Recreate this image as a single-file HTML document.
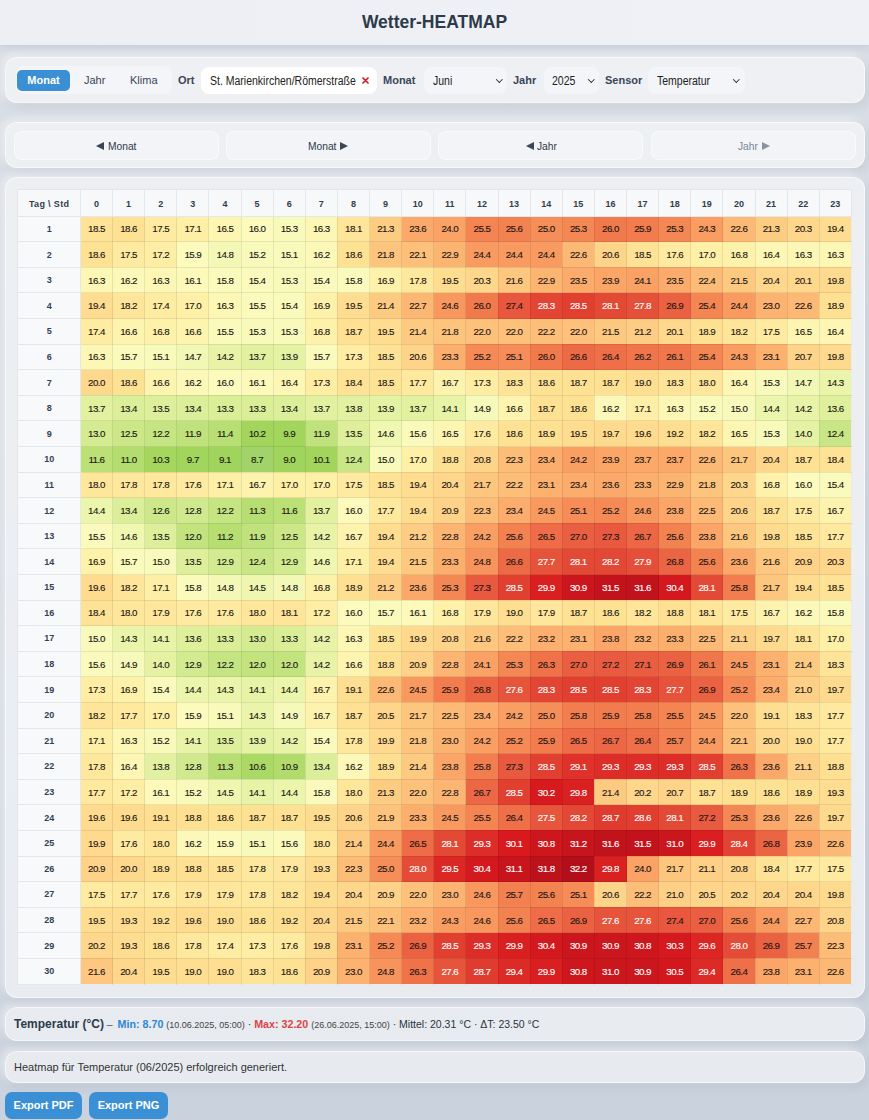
<!DOCTYPE html>
<html><head><meta charset="utf-8">
<style>
*{box-sizing:border-box;margin:0;padding:0}
html,body{width:869px;height:1120px;overflow:hidden}
body{font-family:"Liberation Sans",sans-serif;background:linear-gradient(180deg,#dadee6 0%,#d3d9e2 50%,#cad2dd 100%);color:#2d3a4a;position:relative}
.hdr{position:absolute;left:0;top:0;width:869px;height:45px;background:linear-gradient(90deg,#edeff4,#eff1f6);box-shadow:0 2px 8px rgba(60,70,90,.12);text-align:center}
.hdr h1{font-size:17.5px;font-weight:bold;line-height:44px;color:#2c3a4b;letter-spacing:0}
.panel{position:absolute;left:5px;width:860px;background:rgba(255,255,255,.55);border:1px solid rgba(255,255,255,.6);border-radius:12px;box-shadow:-4px -3px 10px rgba(255,255,255,.5),3px 4px 10px rgba(70,80,100,.10)}
.p1{top:57px;height:46px}
.p2{top:122px;height:46px}
.p3{top:177px;height:821px}
.p4{top:1007px;height:34px}
.p5{top:1051px;height:32px}
.abs{position:absolute}
.tabs{left:10px;top:8px;width:156px;height:28px;background:#f3f5f8;border-radius:8px}
.tab{position:absolute;font-size:11px;color:#3a4656;top:0;line-height:28px}
.tab.act{left:1px;top:4px;width:53px;height:21px;line-height:21px;background:#3b8fd5;color:#fff;font-weight:bold;border-radius:5px;text-align:center}
.lbl{position:absolute;font-size:11px;font-weight:bold;color:#3a4658;line-height:20px;top:12px}
.sx{display:inline-block;transform:scaleX(.875);transform-origin:0 50%;white-space:nowrap}
.inp{position:absolute;top:9px;height:27px;background:#fff;border-radius:8px;font-size:12px;line-height:27px;color:#222}
.sel{position:absolute;top:9px;height:27px;background:#f3f5f8;border-radius:8px;font-size:12px;line-height:28px;color:#222}
.chev{position:absolute;top:9.5px;width:4.6px;height:4.6px;border-right:1.4px solid #2a2a2a;border-bottom:1.4px solid #2a2a2a;transform:rotate(45deg)}
.nb{position:absolute;top:8px;height:29px;width:205px;background:#f2f4f7;border:1px solid rgba(255,255,255,.5);border-radius:8px;font-size:12px;text-align:center;line-height:29px;color:#2d3a4a}
.tri{position:absolute;top:19px;fill:#3b4554}.tri.dis{fill:#8a93a0}
.nt{position:absolute;top:17.6px;line-height:11px;font-size:11px;color:#2f3a49;display:inline-block;transform:scaleX(.93);transform-origin:0 50%;white-space:nowrap}.nt.dis{color:#7b8593}
table.hm{position:absolute;left:11.4px;top:11px;border-collapse:collapse;table-layout:fixed;width:834.5px;background:#fff}
table.hm th,table.hm td{border:1px solid #e3e6ea;height:25.6px;padding:0;text-align:center;font-size:9.8px;color:#1a1612;letter-spacing:-0.55px;white-space:nowrap}
table.hm td{-webkit-text-stroke:0.12px currentColor}
table.hm thead th{height:26.7px;padding-top:1.5px;background:#f7f8fa;font-weight:bold;color:#333d4a;font-size:9px;letter-spacing:0}
table.hm tbody th{background:#f8f9fb;font-weight:bold;color:#334155;font-size:9px;letter-spacing:0}
table.hm td{border-color:rgba(0,0,0,.08)}
table.hm td.w{color:#fff}
</style></head><body>
<div class="hdr"><h1>Wetter-HEATMAP</h1></div>
<div class="panel p1">
  <div class="abs tabs">
    <div class="tab act">Monat</div>
    <div class="tab" style="left:68px">Jahr</div>
    <div class="tab" style="left:114px">Klima</div>
  </div>
  <div class="lbl" style="left:172px">Ort</div>
  <div class="inp" style="left:195px;width:176px"><span class="sx" style="position:absolute;left:9px;top:1px">St. Marienkirchen/Römerstraße</span><svg style="position:absolute;left:161px;top:10px" width="7" height="7" viewBox="0 0 7 7"><path d="M1 1L6 6M6 1L1 6" stroke="#cf1f29" stroke-width="1.7" stroke-linecap="round"/></svg></div>
  <div class="lbl" style="left:377px">Monat</div>
  <div class="sel" style="left:418px;width:83px"><span class="sx" style="position:absolute;left:9px">Juni</span><i class="chev" style="left:72.5px"></i></div>
  <div class="lbl" style="left:507px">Jahr</div>
  <div class="sel" style="left:538px;width:55px"><span class="sx" style="position:absolute;left:8px">2025</span><i class="chev" style="left:45px"></i></div>
  <div class="lbl" style="left:599px">Sensor</div>
  <div class="sel" style="left:642px;width:97px"><span class="sx" style="position:absolute;left:9px">Temperatur</span><i class="chev" style="left:86px"></i></div>
</div>
<div class="panel p2">
  <div class="nb" style="left:8px"></div>
  <div class="nb" style="left:220px"></div>
  <div class="nb" style="left:432px"></div>
  <div class="nb" style="left:645px"></div>
  <svg class="tri" style="left:90.0px" width="8" height="8" viewBox="0 0 8 8"><path d="M0 4L8 0V8Z"/></svg><span class="nt" style="left:102.4px">Monat</span>
  <span class="nt" style="left:301.9px">Monat</span><svg class="tri" style="left:334.4px" width="8" height="8" viewBox="0 0 8 8"><path d="M8 4L0 0V8Z"/></svg>
  <svg class="tri" style="left:519.6px" width="8" height="8" viewBox="0 0 8 8"><path d="M0 4L8 0V8Z"/></svg><span class="nt" style="left:531.3px">Jahr</span>
  <span class="nt dis" style="left:732.3px">Jahr</span><svg class="tri dis" style="left:755.9px" width="8" height="8" viewBox="0 0 8 8"><path d="M8 4L0 0V8Z"/></svg>
</div>
<div class="panel p3">
<table class="hm"><colgroup><col style="width:62.5px"><col><col><col><col><col><col><col><col><col><col><col><col><col><col><col><col><col><col><col><col><col><col><col><col></colgroup><thead><tr><th class="c0" style="letter-spacing:.35px">Tag \ Std</th><th>0</th><th>1</th><th>2</th><th>3</th><th>4</th><th>5</th><th>6</th><th>7</th><th>8</th><th>9</th><th>10</th><th>11</th><th>12</th><th>13</th><th>14</th><th>15</th><th>16</th><th>17</th><th>18</th><th>19</th><th>20</th><th>21</th><th>22</th><th>23</th></tr></thead><tbody><tr><th>1</th><td style="background:#fee295">18.5</td><td style="background:#fee294">18.6</td><td style="background:#feeba1">17.5</td><td style="background:#feefa6">17.1</td><td style="background:#fdf5b2">16.5</td><td style="background:#fcfabd">16.0</td><td style="background:#f8fabc">15.3</td><td style="background:#fdf7b6">16.3</td><td style="background:#fee59a">18.1</td><td style="background:#fdcc83">21.3</td><td style="background:#fba96a">23.6</td><td style="background:#fba366">24.0</td><td style="background:#f48452">25.5</td><td style="background:#f38251">25.6</td><td style="background:#f68e59">25.0</td><td style="background:#f48855">25.3</td><td style="background:#f17a4c">26.0</td><td style="background:#f27c4d">25.9</td><td style="background:#f48855">25.3</td><td style="background:#fa9d62">24.3</td><td style="background:#fcb875">22.6</td><td style="background:#fdcc83">21.3</td><td style="background:#fed68c">20.3</td><td style="background:#fedc90">19.4</td></tr>
<tr><th>2</th><td style="background:#fee294">18.6</td><td style="background:#feeba1">17.5</td><td style="background:#feeea5">17.2</td><td style="background:#fcfabd">15.9</td><td style="background:#f3f8b6">14.8</td><td style="background:#f8fabb">15.2</td><td style="background:#f8fabb">15.1</td><td style="background:#fcf8b9">16.2</td><td style="background:#fee294">18.6</td><td style="background:#fdc47d">21.8</td><td style="background:#fdc07a">22.1</td><td style="background:#fcb471">22.9</td><td style="background:#f99b61">24.4</td><td style="background:#f99b61">24.4</td><td style="background:#f99b61">24.4</td><td style="background:#fcb875">22.6</td><td style="background:#fed48b">20.6</td><td style="background:#fee295">18.5</td><td style="background:#feeaa0">17.6</td><td style="background:#fef0a7">17.0</td><td style="background:#fef2ab">16.8</td><td style="background:#fdf6b4">16.4</td><td style="background:#fdf7b6">16.3</td><td style="background:#fdf7b6">16.3</td></tr>
<tr><th>3</th><td style="background:#fdf7b6">16.3</td><td style="background:#fcf8b9">16.2</td><td style="background:#fdf7b6">16.3</td><td style="background:#fcf9bb">16.1</td><td style="background:#fbfabd">15.8</td><td style="background:#f9fabc">15.4</td><td style="background:#f8fabc">15.3</td><td style="background:#f9fabc">15.4</td><td style="background:#fbfabd">15.8</td><td style="background:#fef1a9">16.9</td><td style="background:#fee89d">17.8</td><td style="background:#fedc90">19.5</td><td style="background:#fed68c">20.3</td><td style="background:#fdc77f">21.6</td><td style="background:#fcb471">22.9</td><td style="background:#fbab6b">23.5</td><td style="background:#fba567">23.9</td><td style="background:#faa165">24.1</td><td style="background:#fbab6b">23.5</td><td style="background:#fcbb77">22.4</td><td style="background:#fdc981">21.5</td><td style="background:#fed68c">20.4</td><td style="background:#fed88d">20.1</td><td style="background:#feda8e">19.8</td></tr>
<tr><th>4</th><td style="background:#fedc90">19.4</td><td style="background:#fee599">18.2</td><td style="background:#feeca2">17.4</td><td style="background:#fef0a7">17.0</td><td style="background:#fdf7b6">16.3</td><td style="background:#fafabc">15.5</td><td style="background:#f9fabc">15.4</td><td style="background:#fef1a9">16.9</td><td style="background:#fedc90">19.5</td><td style="background:#fdca82">21.4</td><td style="background:#fcb774">22.7</td><td style="background:#f8975e">24.6</td><td style="background:#f17a4c">26.0</td><td style="background:#e8573e">27.4</td><td class="w" style="background:#e24533">28.3</td><td class="w" style="background:#e14031">28.5</td><td class="w" style="background:#e34a36">28.1</td><td class="w" style="background:#e55039">27.8</td><td style="background:#eb6243">26.9</td><td style="background:#f48654">25.4</td><td style="background:#f99b61">24.4</td><td style="background:#fcb270">23.0</td><td style="background:#fcb875">22.6</td><td style="background:#fee092">18.9</td></tr>
<tr><th>5</th><td style="background:#feeca2">17.4</td><td style="background:#fdf4b0">16.6</td><td style="background:#fef2ab">16.8</td><td style="background:#fdf4b0">16.6</td><td style="background:#fafabc">15.5</td><td style="background:#f8fabc">15.3</td><td style="background:#f8fabc">15.3</td><td style="background:#fef2ab">16.8</td><td style="background:#fee193">18.7</td><td style="background:#fedc90">19.5</td><td style="background:#fdca82">21.4</td><td style="background:#fdc47d">21.8</td><td style="background:#fdc17b">22.0</td><td style="background:#fdc17b">22.0</td><td style="background:#fdbe79">22.2</td><td style="background:#fdc17b">22.0</td><td style="background:#fdc981">21.5</td><td style="background:#fecd85">21.2</td><td style="background:#fed88d">20.1</td><td style="background:#fee092">18.9</td><td style="background:#fee599">18.2</td><td style="background:#feeba1">17.5</td><td style="background:#fdf5b2">16.5</td><td style="background:#fdf6b4">16.4</td></tr>
<tr><th>6</th><td style="background:#fdf7b6">16.3</td><td style="background:#fafabc">15.7</td><td style="background:#f8fabb">15.1</td><td style="background:#f1f7b4">14.7</td><td style="background:#e8f3a8">14.2</td><td style="background:#e1f19f">13.7</td><td style="background:#e4f2a3">13.9</td><td style="background:#fafabc">15.7</td><td style="background:#feeda3">17.3</td><td style="background:#fee295">18.5</td><td style="background:#fed48b">20.6</td><td style="background:#fcae6d">23.3</td><td style="background:#f58a56">25.2</td><td style="background:#f68c58">25.1</td><td style="background:#f17a4c">26.0</td><td style="background:#ed6a46">26.6</td><td style="background:#ee6f48">26.4</td><td style="background:#f0754a">26.2</td><td style="background:#f0774b">26.1</td><td style="background:#f48654">25.4</td><td style="background:#fa9d62">24.3</td><td style="background:#fcb16f">23.1</td><td style="background:#fed48a">20.7</td><td style="background:#feda8e">19.8</td></tr>
<tr><th>7</th><td style="background:#fed88d">20.0</td><td style="background:#fee294">18.6</td><td style="background:#fdf4b0">16.6</td><td style="background:#fcf8b9">16.2</td><td style="background:#fcfabd">16.0</td><td style="background:#fcf9bb">16.1</td><td style="background:#fdf6b4">16.4</td><td style="background:#feeda3">17.3</td><td style="background:#fee396">18.4</td><td style="background:#fee295">18.5</td><td style="background:#fee99f">17.7</td><td style="background:#fdf3ae">16.7</td><td style="background:#feeda3">17.3</td><td style="background:#fee498">18.3</td><td style="background:#fee294">18.6</td><td style="background:#fee193">18.7</td><td style="background:#fee193">18.7</td><td style="background:#fedf92">19.0</td><td style="background:#fee498">18.3</td><td style="background:#fee69b">18.0</td><td style="background:#fdf6b4">16.4</td><td style="background:#f8fabc">15.3</td><td style="background:#f1f7b4">14.7</td><td style="background:#eaf4aa">14.3</td></tr>
<tr><th>8</th><td style="background:#e1f19f">13.7</td><td style="background:#dbee99">13.4</td><td style="background:#ddef9b">13.5</td><td style="background:#dbee99">13.4</td><td style="background:#daee97">13.3</td><td style="background:#daee97">13.3</td><td style="background:#dbee99">13.4</td><td style="background:#e1f19f">13.7</td><td style="background:#e2f1a1">13.8</td><td style="background:#e4f2a3">13.9</td><td style="background:#e1f19f">13.7</td><td style="background:#e7f3a6">14.1</td><td style="background:#f5f9b9">14.9</td><td style="background:#fdf4b0">16.6</td><td style="background:#fee193">18.7</td><td style="background:#fee294">18.6</td><td style="background:#fcf8b9">16.2</td><td style="background:#feefa6">17.1</td><td style="background:#fdf7b6">16.3</td><td style="background:#f8fabb">15.2</td><td style="background:#f7fabb">15.0</td><td style="background:#ecf5ac">14.4</td><td style="background:#e8f3a8">14.2</td><td style="background:#dff09d">13.6</td></tr>
<tr><th>9</th><td style="background:#d4eb92">13.0</td><td style="background:#cbe788">12.5</td><td style="background:#c5e482">12.2</td><td style="background:#c0e27c">11.9</td><td style="background:#b8df73">11.4</td><td style="background:#a3d55c">10.2</td><td style="background:#a2d55c">9.9</td><td style="background:#c0e27c">11.9</td><td style="background:#ddef9b">13.5</td><td style="background:#f0f7b1">14.6</td><td style="background:#fafabc">15.6</td><td style="background:#fdf5b2">16.5</td><td style="background:#feeaa0">17.6</td><td style="background:#fee294">18.6</td><td style="background:#fee092">18.9</td><td style="background:#fedc90">19.5</td><td style="background:#feda8f">19.7</td><td style="background:#fedb8f">19.6</td><td style="background:#fede91">19.2</td><td style="background:#fee599">18.2</td><td style="background:#fdf5b2">16.5</td><td style="background:#f8fabc">15.3</td><td style="background:#e5f2a4">14.0</td><td style="background:#c9e686">12.4</td></tr>
<tr><th>10</th><td style="background:#bbe076">11.6</td><td style="background:#b3dd6e">11.0</td><td style="background:#a5d65e">10.3</td><td style="background:#a2d55c">9.7</td><td style="background:#a0d45c">9.1</td><td style="background:#a2d36a">8.7</td><td style="background:#a0d45c">9.0</td><td style="background:#a3d55c">10.1</td><td style="background:#c9e686">12.4</td><td style="background:#f7fabb">15.0</td><td style="background:#fef0a7">17.0</td><td style="background:#fee093">18.8</td><td style="background:#fed38a">20.8</td><td style="background:#fcbd78">22.3</td><td style="background:#fcac6c">23.4</td><td style="background:#fa9f63">24.2</td><td style="background:#fba567">23.9</td><td style="background:#fba869">23.7</td><td style="background:#fba869">23.7</td><td style="background:#fcb875">22.6</td><td style="background:#fdc67e">21.7</td><td style="background:#fed68c">20.4</td><td style="background:#fee193">18.7</td><td style="background:#fee396">18.4</td></tr>
<tr><th>11</th><td style="background:#fee69b">18.0</td><td style="background:#fee89d">17.8</td><td style="background:#fee89d">17.8</td><td style="background:#feeaa0">17.6</td><td style="background:#feefa6">17.1</td><td style="background:#fdf3ae">16.7</td><td style="background:#fef0a7">17.0</td><td style="background:#fef0a7">17.0</td><td style="background:#feeba1">17.5</td><td style="background:#fee295">18.5</td><td style="background:#fedc90">19.4</td><td style="background:#fed68c">20.4</td><td style="background:#fdc67e">21.7</td><td style="background:#fdbe79">22.2</td><td style="background:#fcb16f">23.1</td><td style="background:#fcac6c">23.4</td><td style="background:#fba96a">23.6</td><td style="background:#fcae6d">23.3</td><td style="background:#fcb471">22.9</td><td style="background:#fdc47d">21.8</td><td style="background:#fed68c">20.3</td><td style="background:#fef2ab">16.8</td><td style="background:#fcfabd">16.0</td><td style="background:#f9fabc">15.4</td></tr>
<tr><th>12</th><td style="background:#ecf5ac">14.4</td><td style="background:#dbee99">13.4</td><td style="background:#cde88a">12.6</td><td style="background:#d0e98e">12.8</td><td style="background:#c5e482">12.2</td><td style="background:#b7de72">11.3</td><td style="background:#bbe076">11.6</td><td style="background:#e1f19f">13.7</td><td style="background:#fcfabd">16.0</td><td style="background:#fee99f">17.7</td><td style="background:#fedc90">19.4</td><td style="background:#fed289">20.9</td><td style="background:#fcbd78">22.3</td><td style="background:#fcac6c">23.4</td><td style="background:#f89960">24.5</td><td style="background:#f68c58">25.1</td><td style="background:#f58a56">25.2</td><td style="background:#f8975e">24.6</td><td style="background:#fba668">23.8</td><td style="background:#fcba76">22.5</td><td style="background:#fed48b">20.6</td><td style="background:#fee193">18.7</td><td style="background:#feeba1">17.5</td><td style="background:#fdf3ae">16.7</td></tr>
<tr><th>13</th><td style="background:#fafabc">15.5</td><td style="background:#f0f7b1">14.6</td><td style="background:#ddef9b">13.5</td><td style="background:#c2e37e">12.0</td><td style="background:#b6de71">11.2</td><td style="background:#c0e27c">11.9</td><td style="background:#cbe788">12.5</td><td style="background:#e8f3a8">14.2</td><td style="background:#fdf3ae">16.7</td><td style="background:#fedc90">19.4</td><td style="background:#fecd85">21.2</td><td style="background:#fcb573">22.8</td><td style="background:#fa9f63">24.2</td><td style="background:#f38251">25.6</td><td style="background:#ee6c47">26.5</td><td style="background:#ea5f42">27.0</td><td style="background:#e8593f">27.3</td><td style="background:#ec6745">26.7</td><td style="background:#f38251">25.6</td><td style="background:#fba668">23.8</td><td style="background:#fdc77f">21.6</td><td style="background:#feda8e">19.8</td><td style="background:#fee295">18.5</td><td style="background:#fee99f">17.7</td></tr>
<tr><th>14</th><td style="background:#fef1a9">16.9</td><td style="background:#fafabc">15.7</td><td style="background:#f7fabb">15.0</td><td style="background:#ddef9b">13.5</td><td style="background:#d2ea90">12.9</td><td style="background:#c9e686">12.4</td><td style="background:#d2ea90">12.9</td><td style="background:#f0f7b1">14.6</td><td style="background:#feefa6">17.1</td><td style="background:#fedc90">19.4</td><td style="background:#fdc981">21.5</td><td style="background:#fcae6d">23.3</td><td style="background:#f7935c">24.8</td><td style="background:#ed6a46">26.6</td><td class="w" style="background:#e6523a">27.7</td><td class="w" style="background:#e34a36">28.1</td><td class="w" style="background:#e34735">28.2</td><td class="w" style="background:#e54e38">27.9</td><td style="background:#eb6444">26.8</td><td style="background:#f38251">25.6</td><td style="background:#fba96a">23.6</td><td style="background:#fdc77f">21.6</td><td style="background:#fed289">20.9</td><td style="background:#fed68c">20.3</td></tr>
<tr><th>15</th><td style="background:#fedb8f">19.6</td><td style="background:#fee599">18.2</td><td style="background:#feefa6">17.1</td><td style="background:#fbfabd">15.8</td><td style="background:#f3f8b6">14.8</td><td style="background:#eef6af">14.5</td><td style="background:#f3f8b6">14.8</td><td style="background:#fef2ab">16.8</td><td style="background:#fee092">18.9</td><td style="background:#fecd85">21.2</td><td style="background:#fba96a">23.6</td><td style="background:#f48855">25.3</td><td style="background:#e8593f">27.3</td><td class="w" style="background:#e14031">28.5</td><td class="w" style="background:#d91f20">29.9</td><td class="w" style="background:#cb161d">30.9</td><td class="w" style="background:#c2131c">31.5</td><td class="w" style="background:#c0131c">31.6</td><td class="w" style="background:#d3191e">30.4</td><td class="w" style="background:#e34a36">28.1</td><td style="background:#f27e4f">25.8</td><td style="background:#fdc67e">21.7</td><td style="background:#fedc90">19.4</td><td style="background:#fee295">18.5</td></tr>
<tr><th>16</th><td style="background:#fee396">18.4</td><td style="background:#fee69b">18.0</td><td style="background:#fee79c">17.9</td><td style="background:#feeaa0">17.6</td><td style="background:#feeaa0">17.6</td><td style="background:#fee69b">18.0</td><td style="background:#fee59a">18.1</td><td style="background:#feeea5">17.2</td><td style="background:#fcfabd">16.0</td><td style="background:#fafabc">15.7</td><td style="background:#fcf9bb">16.1</td><td style="background:#fef2ab">16.8</td><td style="background:#fee79c">17.9</td><td style="background:#fedf92">19.0</td><td style="background:#fee79c">17.9</td><td style="background:#fee193">18.7</td><td style="background:#fee294">18.6</td><td style="background:#fee599">18.2</td><td style="background:#fee093">18.8</td><td style="background:#fee59a">18.1</td><td style="background:#feeba1">17.5</td><td style="background:#fdf3ae">16.7</td><td style="background:#fcf8b9">16.2</td><td style="background:#fbfabd">15.8</td></tr>
<tr><th>17</th><td style="background:#f7fabb">15.0</td><td style="background:#eaf4aa">14.3</td><td style="background:#e7f3a6">14.1</td><td style="background:#dff09d">13.6</td><td style="background:#daee97">13.3</td><td style="background:#d4eb92">13.0</td><td style="background:#daee97">13.3</td><td style="background:#e8f3a8">14.2</td><td style="background:#fdf7b6">16.3</td><td style="background:#fee295">18.5</td><td style="background:#fed98e">19.9</td><td style="background:#fed38a">20.8</td><td style="background:#fdc77f">21.6</td><td style="background:#fdbe79">22.2</td><td style="background:#fcaf6e">23.2</td><td style="background:#fcb16f">23.1</td><td style="background:#fba668">23.8</td><td style="background:#fcaf6e">23.2</td><td style="background:#fcae6d">23.3</td><td style="background:#fcba76">22.5</td><td style="background:#fecf86">21.1</td><td style="background:#feda8f">19.7</td><td style="background:#fee59a">18.1</td><td style="background:#fef0a7">17.0</td></tr>
<tr><th>18</th><td style="background:#fafabc">15.6</td><td style="background:#f5f9b9">14.9</td><td style="background:#e5f2a4">14.0</td><td style="background:#d2ea90">12.9</td><td style="background:#c5e482">12.2</td><td style="background:#c2e37e">12.0</td><td style="background:#c2e37e">12.0</td><td style="background:#e8f3a8">14.2</td><td style="background:#fdf4b0">16.6</td><td style="background:#fee093">18.8</td><td style="background:#fed289">20.9</td><td style="background:#fcb573">22.8</td><td style="background:#faa165">24.1</td><td style="background:#f48855">25.3</td><td style="background:#ef7249">26.3</td><td style="background:#ea5f42">27.0</td><td style="background:#e95b40">27.2</td><td style="background:#e95d41">27.1</td><td style="background:#eb6243">26.9</td><td style="background:#f0774b">26.1</td><td style="background:#f89960">24.5</td><td style="background:#fcb16f">23.1</td><td style="background:#fdca82">21.4</td><td style="background:#fee498">18.3</td></tr>
<tr><th>19</th><td style="background:#feeda3">17.3</td><td style="background:#fef1a9">16.9</td><td style="background:#f9fabc">15.4</td><td style="background:#ecf5ac">14.4</td><td style="background:#eaf4aa">14.3</td><td style="background:#e7f3a6">14.1</td><td style="background:#ecf5ac">14.4</td><td style="background:#fdf3ae">16.7</td><td style="background:#fede91">19.1</td><td style="background:#fcb875">22.6</td><td style="background:#f89960">24.5</td><td style="background:#f27c4d">25.9</td><td style="background:#eb6444">26.8</td><td class="w" style="background:#e6543b">27.6</td><td class="w" style="background:#e24533">28.3</td><td class="w" style="background:#e14031">28.5</td><td class="w" style="background:#e14031">28.5</td><td class="w" style="background:#e24533">28.3</td><td class="w" style="background:#e6523a">27.7</td><td style="background:#eb6243">26.9</td><td style="background:#f58a56">25.2</td><td style="background:#fcac6c">23.4</td><td style="background:#fed087">21.0</td><td style="background:#feda8f">19.7</td></tr>
<tr><th>20</th><td style="background:#fee599">18.2</td><td style="background:#fee99f">17.7</td><td style="background:#fef0a7">17.0</td><td style="background:#fcfabd">15.9</td><td style="background:#f8fabb">15.1</td><td style="background:#eaf4aa">14.3</td><td style="background:#f5f9b9">14.9</td><td style="background:#fdf3ae">16.7</td><td style="background:#fee193">18.7</td><td style="background:#fed58b">20.5</td><td style="background:#fdc67e">21.7</td><td style="background:#fcba76">22.5</td><td style="background:#fcac6c">23.4</td><td style="background:#fa9f63">24.2</td><td style="background:#f68e59">25.0</td><td style="background:#f27e4f">25.8</td><td style="background:#f27c4d">25.9</td><td style="background:#f27e4f">25.8</td><td style="background:#f48452">25.5</td><td style="background:#f89960">24.5</td><td style="background:#fdc17b">22.0</td><td style="background:#fede91">19.1</td><td style="background:#fee498">18.3</td><td style="background:#fee99f">17.7</td></tr>
<tr><th>21</th><td style="background:#feefa6">17.1</td><td style="background:#fdf7b6">16.3</td><td style="background:#f8fabb">15.2</td><td style="background:#e7f3a6">14.1</td><td style="background:#ddef9b">13.5</td><td style="background:#e4f2a3">13.9</td><td style="background:#e8f3a8">14.2</td><td style="background:#f9fabc">15.4</td><td style="background:#fee89d">17.8</td><td style="background:#fed98e">19.9</td><td style="background:#fdc47d">21.8</td><td style="background:#fcb270">23.0</td><td style="background:#fa9f63">24.2</td><td style="background:#f58a56">25.2</td><td style="background:#f27c4d">25.9</td><td style="background:#ee6c47">26.5</td><td style="background:#ec6745">26.7</td><td style="background:#ee6f48">26.4</td><td style="background:#f28050">25.7</td><td style="background:#f99b61">24.4</td><td style="background:#fdc07a">22.1</td><td style="background:#fed88d">20.0</td><td style="background:#fedf92">19.0</td><td style="background:#fee99f">17.7</td></tr>
<tr><th>22</th><td style="background:#fee89d">17.8</td><td style="background:#fdf6b4">16.4</td><td style="background:#e2f1a1">13.8</td><td style="background:#d0e98e">12.8</td><td style="background:#b7de72">11.3</td><td style="background:#abd965">10.6</td><td style="background:#b1dc6c">10.9</td><td style="background:#dbee99">13.4</td><td style="background:#fcf8b9">16.2</td><td style="background:#fee092">18.9</td><td style="background:#fdca82">21.4</td><td style="background:#fba668">23.8</td><td style="background:#f27e4f">25.8</td><td style="background:#e8593f">27.3</td><td class="w" style="background:#e14031">28.5</td><td class="w" style="background:#de322a">29.1</td><td class="w" style="background:#dd2d28">29.3</td><td class="w" style="background:#dd2d28">29.3</td><td class="w" style="background:#dd2d28">29.3</td><td class="w" style="background:#e14031">28.5</td><td style="background:#ef7249">26.3</td><td style="background:#fba96a">23.6</td><td style="background:#fecf86">21.1</td><td style="background:#fee093">18.8</td></tr>
<tr><th>23</th><td style="background:#fee99f">17.7</td><td style="background:#feeea5">17.2</td><td style="background:#fcf9bb">16.1</td><td style="background:#f8fabb">15.2</td><td style="background:#eef6af">14.5</td><td style="background:#e7f3a6">14.1</td><td style="background:#ecf5ac">14.4</td><td style="background:#fbfabd">15.8</td><td style="background:#fee69b">18.0</td><td style="background:#fdcc83">21.3</td><td style="background:#fdc17b">22.0</td><td style="background:#fcb573">22.8</td><td style="background:#ec6745">26.7</td><td class="w" style="background:#e14031">28.5</td><td class="w" style="background:#d61a1e">30.2</td><td class="w" style="background:#da2122">29.8</td><td style="background:#fdca82">21.4</td><td style="background:#fed78d">20.2</td><td style="background:#fed48a">20.7</td><td style="background:#fee193">18.7</td><td style="background:#fee092">18.9</td><td style="background:#fee294">18.6</td><td style="background:#fee092">18.9</td><td style="background:#fedd90">19.3</td></tr>
<tr><th>24</th><td style="background:#fedb8f">19.6</td><td style="background:#fedb8f">19.6</td><td style="background:#fede91">19.1</td><td style="background:#fee093">18.8</td><td style="background:#fee294">18.6</td><td style="background:#fee193">18.7</td><td style="background:#fee193">18.7</td><td style="background:#fedc90">19.5</td><td style="background:#fed48b">20.6</td><td style="background:#fdc37c">21.9</td><td style="background:#fcae6d">23.3</td><td style="background:#f89960">24.5</td><td style="background:#f48452">25.5</td><td style="background:#ee6f48">26.4</td><td class="w" style="background:#e7563c">27.5</td><td class="w" style="background:#e34735">28.2</td><td class="w" style="background:#e03b2f">28.7</td><td class="w" style="background:#e13e30">28.6</td><td class="w" style="background:#e34a36">28.1</td><td style="background:#e95b40">27.2</td><td style="background:#f48855">25.3</td><td style="background:#fba96a">23.6</td><td style="background:#fcb875">22.6</td><td style="background:#feda8f">19.7</td></tr>
<tr><th>25</th><td style="background:#fed98e">19.9</td><td style="background:#feeaa0">17.6</td><td style="background:#fee69b">18.0</td><td style="background:#fcf8b9">16.2</td><td style="background:#fcfabd">15.9</td><td style="background:#f8fabb">15.1</td><td style="background:#fafabc">15.6</td><td style="background:#fee69b">18.0</td><td style="background:#fdca82">21.4</td><td style="background:#f99b61">24.4</td><td style="background:#ee6c47">26.5</td><td class="w" style="background:#e34a36">28.1</td><td class="w" style="background:#dd2d28">29.3</td><td class="w" style="background:#d81a1e">30.1</td><td class="w" style="background:#cd171d">30.8</td><td class="w" style="background:#c6151d">31.2</td><td class="w" style="background:#c0131c">31.6</td><td class="w" style="background:#c2131c">31.5</td><td class="w" style="background:#ca161d">31.0</td><td class="w" style="background:#d91f20">29.9</td><td class="w" style="background:#e24232">28.4</td><td style="background:#eb6444">26.8</td><td style="background:#fba567">23.9</td><td style="background:#fcb875">22.6</td></tr>
<tr><th>26</th><td style="background:#fed289">20.9</td><td style="background:#fed88d">20.0</td><td style="background:#fee092">18.9</td><td style="background:#fee093">18.8</td><td style="background:#fee295">18.5</td><td style="background:#fee89d">17.8</td><td style="background:#fee79c">17.9</td><td style="background:#fedd90">19.3</td><td style="background:#fcbd78">22.3</td><td style="background:#f68e59">25.0</td><td class="w" style="background:#e44c37">28.0</td><td class="w" style="background:#db2825">29.5</td><td class="w" style="background:#d3191e">30.4</td><td class="w" style="background:#c8151d">31.1</td><td class="w" style="background:#bc121b">31.8</td><td class="w" style="background:#b30f1a">32.2</td><td class="w" style="background:#da2122">29.8</td><td style="background:#fba366">24.0</td><td style="background:#fdc67e">21.7</td><td style="background:#fecf86">21.1</td><td style="background:#fed38a">20.8</td><td style="background:#fee396">18.4</td><td style="background:#fee99f">17.7</td><td style="background:#feeba1">17.5</td></tr>
<tr><th>27</th><td style="background:#feeba1">17.5</td><td style="background:#fee99f">17.7</td><td style="background:#feeaa0">17.6</td><td style="background:#fee79c">17.9</td><td style="background:#fee79c">17.9</td><td style="background:#fee89d">17.8</td><td style="background:#fee599">18.2</td><td style="background:#fedc90">19.4</td><td style="background:#fed68c">20.4</td><td style="background:#fed289">20.9</td><td style="background:#fdc17b">22.0</td><td style="background:#fcb270">23.0</td><td style="background:#f8975e">24.6</td><td style="background:#f28050">25.7</td><td style="background:#f38251">25.6</td><td style="background:#f68c58">25.1</td><td style="background:#fed48b">20.6</td><td style="background:#fdbe79">22.2</td><td style="background:#fed087">21.0</td><td style="background:#fed58b">20.5</td><td style="background:#fed78d">20.2</td><td style="background:#fed68c">20.4</td><td style="background:#fed68c">20.4</td><td style="background:#feda8e">19.8</td></tr>
<tr><th>28</th><td style="background:#fedc90">19.5</td><td style="background:#fedd90">19.3</td><td style="background:#fede91">19.2</td><td style="background:#fedb8f">19.6</td><td style="background:#fedf92">19.0</td><td style="background:#fee294">18.6</td><td style="background:#fede91">19.2</td><td style="background:#fed68c">20.4</td><td style="background:#fdc981">21.5</td><td style="background:#fdc07a">22.1</td><td style="background:#fcaf6e">23.2</td><td style="background:#fa9d62">24.3</td><td style="background:#f8975e">24.6</td><td style="background:#f38251">25.6</td><td style="background:#ee6c47">26.5</td><td style="background:#eb6243">26.9</td><td class="w" style="background:#e6543b">27.6</td><td class="w" style="background:#e6543b">27.6</td><td style="background:#e8573e">27.4</td><td style="background:#ea5f42">27.0</td><td style="background:#f38251">25.6</td><td style="background:#f99b61">24.4</td><td style="background:#fcb774">22.7</td><td style="background:#fed38a">20.8</td></tr>
<tr><th>29</th><td style="background:#fed78d">20.2</td><td style="background:#fedd90">19.3</td><td style="background:#fee294">18.6</td><td style="background:#fee89d">17.8</td><td style="background:#feeca2">17.4</td><td style="background:#feeda3">17.3</td><td style="background:#feeaa0">17.6</td><td style="background:#feda8e">19.8</td><td style="background:#fcb16f">23.1</td><td style="background:#f58a56">25.2</td><td style="background:#eb6243">26.9</td><td class="w" style="background:#e14031">28.5</td><td class="w" style="background:#dd2d28">29.3</td><td class="w" style="background:#d91f20">29.9</td><td class="w" style="background:#d3191e">30.4</td><td class="w" style="background:#cb161d">30.9</td><td class="w" style="background:#cb161d">30.9</td><td class="w" style="background:#cd171d">30.8</td><td class="w" style="background:#d5191e">30.3</td><td class="w" style="background:#db2624">29.6</td><td class="w" style="background:#e44c37">28.0</td><td style="background:#eb6243">26.9</td><td style="background:#f28050">25.7</td><td style="background:#fcbd78">22.3</td></tr>
<tr><th>30</th><td style="background:#fdc77f">21.6</td><td style="background:#fed68c">20.4</td><td style="background:#fedc90">19.5</td><td style="background:#fedf92">19.0</td><td style="background:#fedf92">19.0</td><td style="background:#fee498">18.3</td><td style="background:#fee294">18.6</td><td style="background:#fed289">20.9</td><td style="background:#fcb270">23.0</td><td style="background:#f7935c">24.8</td><td style="background:#ef7249">26.3</td><td class="w" style="background:#e6543b">27.6</td><td class="w" style="background:#e03b2f">28.7</td><td class="w" style="background:#dc2b26">29.4</td><td class="w" style="background:#d91f20">29.9</td><td class="w" style="background:#cd171d">30.8</td><td class="w" style="background:#ca161d">31.0</td><td class="w" style="background:#cb161d">30.9</td><td class="w" style="background:#d2181d">30.5</td><td class="w" style="background:#dc2b26">29.4</td><td style="background:#ee6f48">26.4</td><td style="background:#fba668">23.8</td><td style="background:#fcb16f">23.1</td><td style="background:#fcb875">22.6</td></tr></tbody></table>
</div>
<div class="panel p4"><div class="abs sm" style="left:8px;top:0;line-height:33px;font-size:10.5px;color:#2a3340;white-space:nowrap"><b class="m1" style="font-size:12px;color:#2d3a4a">Temperatur (°C)</b> <span style="color:#555;margin-right:2px">–</span> <b class="m2" style="font-size:10.7px;color:#2f86d6">Min: 8.70</b> <span class="m3" style="font-size:9px;color:#444">(10.06.2025, 05:00)</span> · <b class="m4" style="font-size:10.7px;color:#d94545">Max: 32.20</b> <span class="m5" style="font-size:9px;color:#444">(26.06.2025, 15:00)</span> <span class="m6">· Mittel: 20.31 °C · ΔT: 23.50 °C</span></div></div>
<div class="panel p5"><div class="abs m7" style="left:8px;top:0;line-height:31px;font-size:11px;color:#333">Heatmap für Temperatur (06/2025) erfolgreich generiert.</div></div>
<div class="abs" style="left:5px;top:1092px;width:77px;height:27px;background:#3b8fd5;border-radius:7px;color:#fff;font-weight:bold;font-size:11px;line-height:27px;text-align:center">Export PDF</div>
<div class="abs" style="left:89px;top:1092px;width:79px;height:27px;background:#3b8fd5;border-radius:7px;color:#fff;font-weight:bold;font-size:11px;line-height:27px;text-align:center">Export PNG</div>
</body></html>
